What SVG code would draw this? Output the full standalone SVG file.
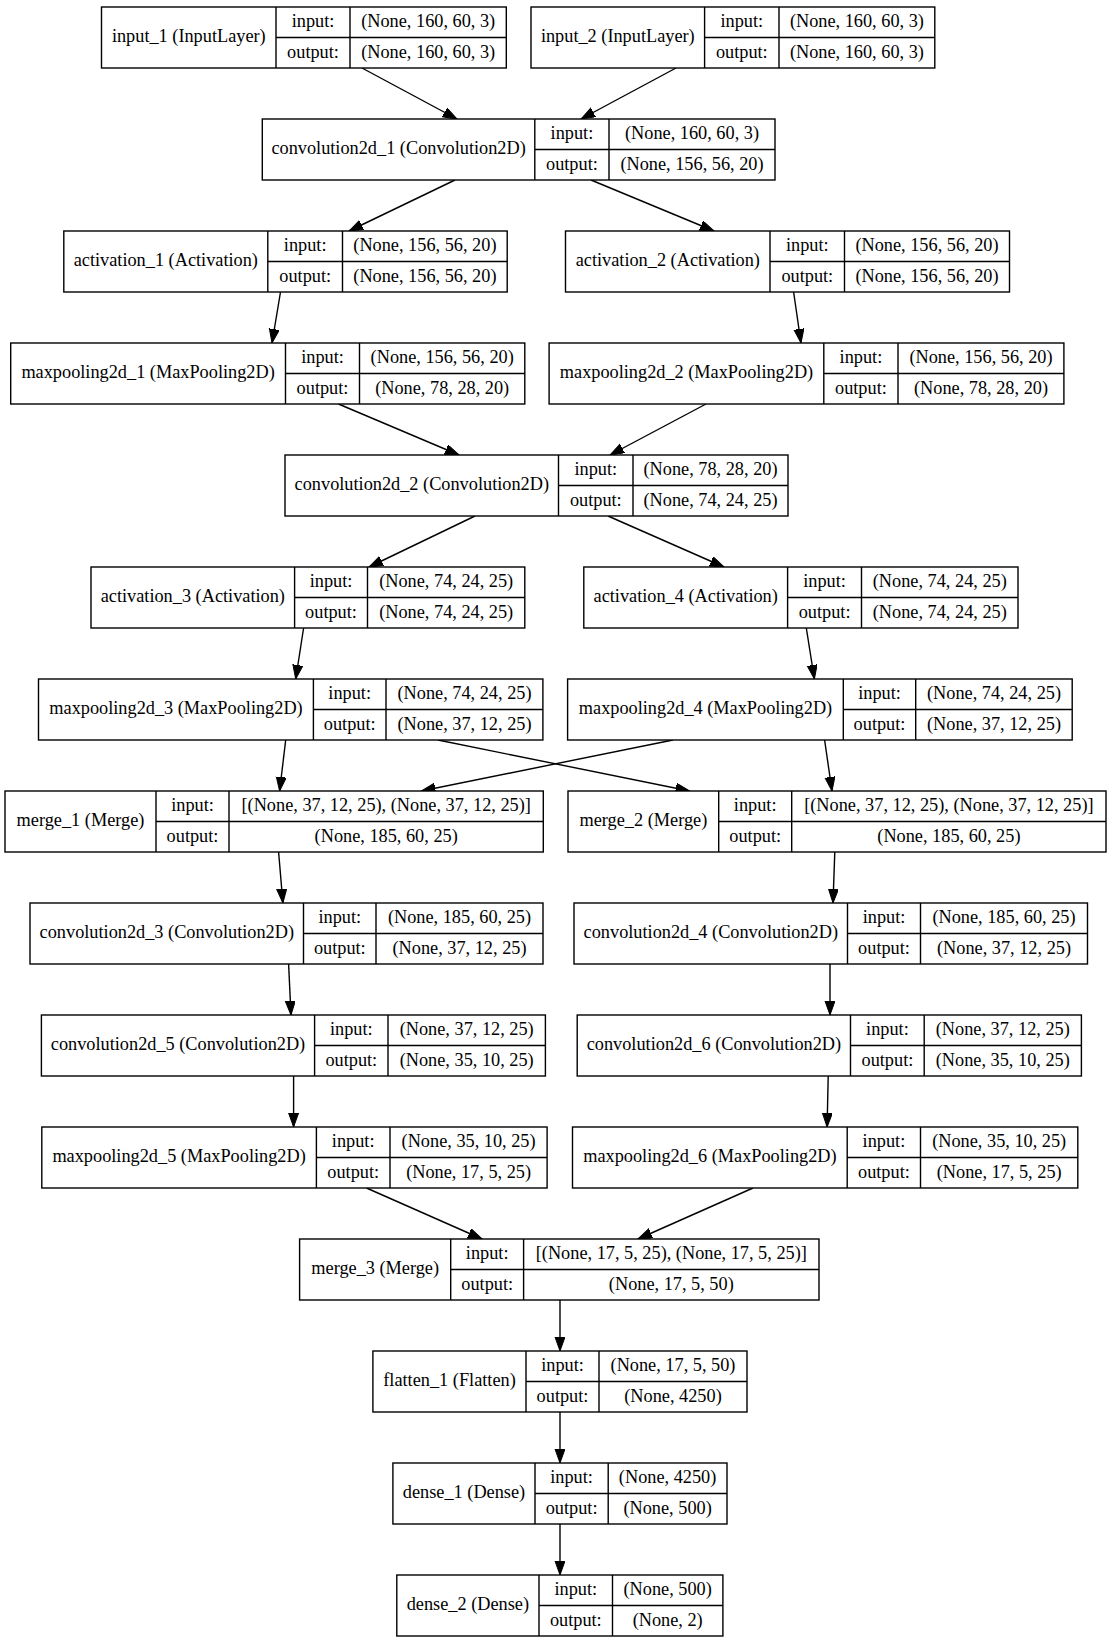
<svg xmlns="http://www.w3.org/2000/svg" width="1112" height="1643" viewBox="0 0 1112 1643">
<style>
.b{fill:#fff;stroke:#000;stroke-width:1.4}
.d{fill:none;stroke:#000;stroke-width:1.4}
.e{fill:none;stroke:#000;stroke-width:1.4;marker-end:url(#ah)}
text{font-family:"Liberation Serif","Times New Roman",serif;font-size:18.3px;text-anchor:middle;fill:#000;transform:translateY(-1.2px)}
</style>
<defs>
<marker id="ah" markerUnits="userSpaceOnUse" markerWidth="15" markerHeight="11" refX="14" refY="5" orient="auto">
<path d="M0,0 L14,5 L0,10 z" fill="#000" stroke="#000" stroke-width="1"/>
</marker>
</defs>
<rect width="1112" height="1643" fill="#fff"/>
<g id="edges">
<line class="e" x1="362" y1="68" x2="457" y2="119"/>
<line class="e" x1="676" y1="68" x2="581" y2="119"/>
<line class="e" x1="455" y1="180" x2="349" y2="231"/>
<line class="e" x1="591" y1="180" x2="714" y2="231"/>
<line class="e" x1="280.5" y1="292" x2="272" y2="343"/>
<line class="e" x1="793.6" y1="292" x2="801" y2="343"/>
<line class="e" x1="338.5" y1="404" x2="459" y2="455"/>
<line class="e" x1="706" y1="404" x2="610" y2="455"/>
<line class="e" x1="475" y1="516" x2="369" y2="567"/>
<line class="e" x1="608" y1="516" x2="724" y2="567"/>
<line class="e" x1="303.6" y1="628" x2="295.7" y2="679"/>
<line class="e" x1="806.3" y1="628" x2="814.4" y2="679"/>
<line class="e" x1="285.7" y1="740" x2="279.6" y2="791"/>
<line class="e" x1="438" y1="740" x2="689.6" y2="791"/>
<line class="e" x1="673" y1="740" x2="421.4" y2="791"/>
<line class="e" x1="824.6" y1="740" x2="832" y2="791"/>
<line class="e" x1="278.6" y1="852" x2="282.9" y2="903"/>
<line class="e" x1="834.8" y1="852" x2="833" y2="903"/>
<line class="e" x1="288.6" y1="964" x2="291" y2="1015"/>
<line class="e" x1="830" y1="964" x2="830" y2="1015"/>
<line class="e" x1="293.6" y1="1076" x2="293.6" y2="1127"/>
<line class="e" x1="828.2" y1="1076" x2="827.1" y2="1127"/>
<line class="e" x1="366.5" y1="1188" x2="482" y2="1239"/>
<line class="e" x1="753" y1="1188" x2="638" y2="1239"/>
<line class="e" x1="560" y1="1300" x2="560" y2="1351"/>
<line class="e" x1="560" y1="1412" x2="560" y2="1463"/>
<line class="e" x1="560" y1="1524" x2="560" y2="1575"/>
</g>
<g id="input_1">
<rect class="b" x="101.5" y="7" width="404.8" height="61"/>
<path class="d" d="M276,7V68M350,7V68M276,37.5H506.3"/>
<text x="188.8" y="43.5">input_1 (InputLayer)</text>
<text x="313" y="28.5">input:</text><text x="313" y="59">output:</text>
<text x="428.2" y="28.5">(None, 160, 60, 3)</text><text x="428.2" y="59">(None, 160, 60, 3)</text>
</g>
<g id="input_2">
<rect class="b" x="531" y="7" width="403.8" height="61"/>
<path class="d" d="M704.6,7V68M779,7V68M704.6,37.5H934.8"/>
<text x="617.8" y="43.5">input_2 (InputLayer)</text>
<text x="741.8" y="28.5">input:</text><text x="741.8" y="59">output:</text>
<text x="856.9" y="28.5">(None, 160, 60, 3)</text><text x="856.9" y="59">(None, 160, 60, 3)</text>
</g>
<g id="convolution2d_1">
<rect class="b" x="262.3" y="119" width="512.7" height="61"/>
<path class="d" d="M534.8,119V180M609,119V180M534.8,149.5H775"/>
<text x="398.6" y="155.5">convolution2d_1 (Convolution2D)</text>
<text x="571.9" y="140.5">input:</text><text x="571.9" y="171">output:</text>
<text x="692" y="140.5">(None, 160, 60, 3)</text><text x="692" y="171">(None, 156, 56, 20)</text>
</g>
<g id="activation_1">
<rect class="b" x="63.8" y="231" width="443.4" height="61"/>
<path class="d" d="M267.8,231V292M342.5,231V292M267.8,261.5H507.2"/>
<text x="165.8" y="267.5">activation_1 (Activation)</text>
<text x="305.2" y="252.5">input:</text><text x="305.2" y="283">output:</text>
<text x="424.9" y="252.5">(None, 156, 56, 20)</text><text x="424.9" y="283">(None, 156, 56, 20)</text>
</g>
<g id="activation_2">
<rect class="b" x="565.5" y="231" width="444" height="61"/>
<path class="d" d="M770,231V292M844.5,231V292M770,261.5H1009.5"/>
<text x="667.8" y="267.5">activation_2 (Activation)</text>
<text x="807.3" y="252.5">input:</text><text x="807.3" y="283">output:</text>
<text x="927" y="252.5">(None, 156, 56, 20)</text><text x="927" y="283">(None, 156, 56, 20)</text>
</g>
<g id="maxpooling2d_1">
<rect class="b" x="10.7" y="343" width="514.1" height="61"/>
<path class="d" d="M285.5,343V404M359.5,343V404M285.5,373.5H524.8"/>
<text x="148.1" y="379.5">maxpooling2d_1 (MaxPooling2D)</text>
<text x="322.5" y="364.5">input:</text><text x="322.5" y="395">output:</text>
<text x="442.2" y="364.5">(None, 156, 56, 20)</text><text x="442.2" y="395">(None, 78, 28, 20)</text>
</g>
<g id="maxpooling2d_2">
<rect class="b" x="549.1" y="343" width="514.8" height="61"/>
<path class="d" d="M823.8,343V404M898,343V404M823.8,373.5H1063.9"/>
<text x="686.5" y="379.5">maxpooling2d_2 (MaxPooling2D)</text>
<text x="860.9" y="364.5">input:</text><text x="860.9" y="395">output:</text>
<text x="981" y="364.5">(None, 156, 56, 20)</text><text x="981" y="395">(None, 78, 28, 20)</text>
</g>
<g id="convolution2d_2">
<rect class="b" x="285" y="455" width="503" height="61"/>
<path class="d" d="M558.5,455V516M633,455V516M558.5,485.5H788"/>
<text x="421.8" y="491.5">convolution2d_2 (Convolution2D)</text>
<text x="595.8" y="476.5">input:</text><text x="595.8" y="507">output:</text>
<text x="710.5" y="476.5">(None, 78, 28, 20)</text><text x="710.5" y="507">(None, 74, 24, 25)</text>
</g>
<g id="activation_3">
<rect class="b" x="91" y="567" width="433.8" height="61"/>
<path class="d" d="M294.6,567V628M367.5,567V628M294.6,597.5H524.8"/>
<text x="192.8" y="603.5">activation_3 (Activation)</text>
<text x="331" y="588.5">input:</text><text x="331" y="619">output:</text>
<text x="446.2" y="588.5">(None, 74, 24, 25)</text><text x="446.2" y="619">(None, 74, 24, 25)</text>
</g>
<g id="activation_4">
<rect class="b" x="583.8" y="567" width="434.2" height="61"/>
<path class="d" d="M787.6,567V628M861.5,567V628M787.6,597.5H1018"/>
<text x="685.7" y="603.5">activation_4 (Activation)</text>
<text x="824.6" y="588.5">input:</text><text x="824.6" y="619">output:</text>
<text x="939.8" y="588.5">(None, 74, 24, 25)</text><text x="939.8" y="619">(None, 74, 24, 25)</text>
</g>
<g id="maxpooling2d_3">
<rect class="b" x="38.5" y="679" width="504.4" height="61"/>
<path class="d" d="M313.4,679V740M386,679V740M313.4,709.5H542.9"/>
<text x="176" y="715.5">maxpooling2d_3 (MaxPooling2D)</text>
<text x="349.7" y="700.5">input:</text><text x="349.7" y="731">output:</text>
<text x="464.5" y="700.5">(None, 74, 24, 25)</text><text x="464.5" y="731">(None, 37, 12, 25)</text>
</g>
<g id="maxpooling2d_4">
<rect class="b" x="567.6" y="679" width="504.6" height="61"/>
<path class="d" d="M843.3,679V740M915.7,679V740M843.3,709.5H1072.2"/>
<text x="705.5" y="715.5">maxpooling2d_4 (MaxPooling2D)</text>
<text x="879.5" y="700.5">input:</text><text x="879.5" y="731">output:</text>
<text x="994" y="700.5">(None, 74, 24, 25)</text><text x="994" y="731">(None, 37, 12, 25)</text>
</g>
<g id="merge_1">
<rect class="b" x="5" y="791" width="538.3" height="61"/>
<path class="d" d="M156,791V852M229,791V852M156,821.5H543.3"/>
<text x="80.5" y="827.5">merge_1 (Merge)</text>
<text x="192.5" y="812.5">input:</text><text x="192.5" y="843">output:</text>
<text x="386.2" y="812.5">[(None, 37, 12, 25), (None, 37, 12, 25)]</text><text x="386.2" y="843">(None, 185, 60, 25)</text>
</g>
<g id="merge_2">
<rect class="b" x="568" y="791" width="538" height="61"/>
<path class="d" d="M718.7,791V852M791.7,791V852M718.7,821.5H1106"/>
<text x="643.4" y="827.5">merge_2 (Merge)</text>
<text x="755.2" y="812.5">input:</text><text x="755.2" y="843">output:</text>
<text x="948.9" y="812.5">[(None, 37, 12, 25), (None, 37, 12, 25)]</text><text x="948.9" y="843">(None, 185, 60, 25)</text>
</g>
<g id="convolution2d_3">
<rect class="b" x="30" y="903" width="513" height="61"/>
<path class="d" d="M303.5,903V964M376,903V964M303.5,933.5H543"/>
<text x="166.8" y="939.5">convolution2d_3 (Convolution2D)</text>
<text x="339.8" y="924.5">input:</text><text x="339.8" y="955">output:</text>
<text x="459.5" y="924.5">(None, 185, 60, 25)</text><text x="459.5" y="955">(None, 37, 12, 25)</text>
</g>
<g id="convolution2d_4">
<rect class="b" x="574" y="903" width="513.5" height="61"/>
<path class="d" d="M847.5,903V964M920.5,903V964M847.5,933.5H1087.5"/>
<text x="710.8" y="939.5">convolution2d_4 (Convolution2D)</text>
<text x="884" y="924.5">input:</text><text x="884" y="955">output:</text>
<text x="1004" y="924.5">(None, 185, 60, 25)</text><text x="1004" y="955">(None, 37, 12, 25)</text>
</g>
<g id="convolution2d_5">
<rect class="b" x="41.4" y="1015" width="504" height="61"/>
<path class="d" d="M314.6,1015V1076M388,1015V1076M314.6,1045.5H545.4"/>
<text x="178" y="1051.5">convolution2d_5 (Convolution2D)</text>
<text x="351.3" y="1036.5">input:</text><text x="351.3" y="1067">output:</text>
<text x="466.7" y="1036.5">(None, 37, 12, 25)</text><text x="466.7" y="1067">(None, 35, 10, 25)</text>
</g>
<g id="convolution2d_6">
<rect class="b" x="577.2" y="1015" width="504.2" height="61"/>
<path class="d" d="M850.5,1015V1076M924.2,1015V1076M850.5,1045.5H1081.4"/>
<text x="713.9" y="1051.5">convolution2d_6 (Convolution2D)</text>
<text x="887.4" y="1036.5">input:</text><text x="887.4" y="1067">output:</text>
<text x="1002.8" y="1036.5">(None, 37, 12, 25)</text><text x="1002.8" y="1067">(None, 35, 10, 25)</text>
</g>
<g id="maxpooling2d_5">
<rect class="b" x="41.8" y="1127" width="505.3" height="61"/>
<path class="d" d="M316.4,1127V1188M390,1127V1188M316.4,1157.5H547.1"/>
<text x="179.1" y="1163.5">maxpooling2d_5 (MaxPooling2D)</text>
<text x="353.2" y="1148.5">input:</text><text x="353.2" y="1179">output:</text>
<text x="468.6" y="1148.5">(None, 35, 10, 25)</text><text x="468.6" y="1179">(None, 17, 5, 25)</text>
</g>
<g id="maxpooling2d_6">
<rect class="b" x="572.5" y="1127" width="505.3" height="61"/>
<path class="d" d="M847.2,1127V1188M920.5,1127V1188M847.2,1157.5H1077.8"/>
<text x="709.9" y="1163.5">maxpooling2d_6 (MaxPooling2D)</text>
<text x="883.9" y="1148.5">input:</text><text x="883.9" y="1179">output:</text>
<text x="999.2" y="1148.5">(None, 35, 10, 25)</text><text x="999.2" y="1179">(None, 17, 5, 25)</text>
</g>
<g id="merge_3">
<rect class="b" x="299.6" y="1239" width="519.4" height="61"/>
<path class="d" d="M450.7,1239V1300M523.6,1239V1300M450.7,1269.5H819"/>
<text x="375.2" y="1275.5">merge_3 (Merge)</text>
<text x="487.2" y="1260.5">input:</text><text x="487.2" y="1291">output:</text>
<text x="671.3" y="1260.5">[(None, 17, 5, 25), (None, 17, 5, 25)]</text><text x="671.3" y="1291">(None, 17, 5, 50)</text>
</g>
<g id="flatten_1">
<rect class="b" x="372.9" y="1351" width="374.1" height="61"/>
<path class="d" d="M526,1351V1412M599,1351V1412M526,1381.5H747"/>
<text x="449.5" y="1387.5">flatten_1 (Flatten)</text>
<text x="562.5" y="1372.5">input:</text><text x="562.5" y="1403">output:</text>
<text x="673" y="1372.5">(None, 17, 5, 50)</text><text x="673" y="1403">(None, 4250)</text>
</g>
<g id="dense_1">
<rect class="b" x="392.9" y="1463" width="334.1" height="61"/>
<path class="d" d="M535,1463V1524M608.2,1463V1524M535,1493.5H727"/>
<text x="464" y="1499.5">dense_1 (Dense)</text>
<text x="571.6" y="1484.5">input:</text><text x="571.6" y="1515">output:</text>
<text x="667.6" y="1484.5">(None, 4250)</text><text x="667.6" y="1515">(None, 500)</text>
</g>
<g id="dense_2">
<rect class="b" x="396.8" y="1575" width="326.1" height="61"/>
<path class="d" d="M539,1575V1636M612.5,1575V1636M539,1605.5H722.9"/>
<text x="467.9" y="1611.5">dense_2 (Dense)</text>
<text x="575.8" y="1596.5">input:</text><text x="575.8" y="1627">output:</text>
<text x="667.7" y="1596.5">(None, 500)</text><text x="667.7" y="1627">(None, 2)</text>
</g>
</svg>
